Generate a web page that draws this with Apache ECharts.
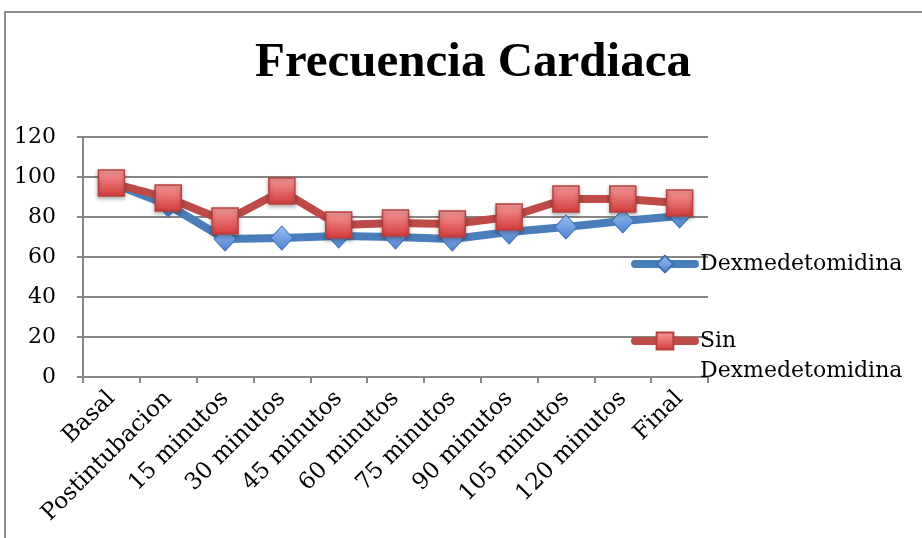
<!DOCTYPE html>
<html>
<head>
<meta charset="utf-8">
<script src="https://cdn.jsdelivr.net/npm/echarts@6/dist/echarts.min.js"></script>
<style>
  html, body { margin: 0; padding: 0; background: #fff; }
  #chart { width: 922px; height: 538px; }
</style>
</head>
<body>
<div id="chart"></div>
<script>
// categories and values
var categories = ['Basal', 'Postintubacion', '15 minutos', '30 minutos', '45 minutos',
                  '60 minutos', '75 minutos', '90 minutos', '105 minutos', '120 minutos', 'Final'];
var dexValues = [97, 86, 69, 69.5, 70.5, 70, 69, 72.5, 75, 78, 80.5];
var sinDexValues = [97, 89.5, 78, 93, 76, 77, 76.5, 80, 89, 89, 87];
var yTicks = { min: 0, max: 120, step: 20 };

var serif = 'DejaVu Serif';
var gridColor = '#868686';

var chart = echarts.init(document.getElementById('chart'));

var option = {
    backgroundColor: '#fff',
    animation: false,
    title: {
        text: 'Frecuencia Cardiaca',
        left: 250,
        top: 34,
        textStyle: {
            fontFamily: 'Liberation Serif',
            fontWeight: 'bold',
            fontSize: 49,
            color: '#000'
        }
    },
    legend: [
        {
            data: ['Dexmedetomidina'],
            orient: 'vertical',
            left: 631,
            top: 253,
            padding: 0,
            itemWidth: 60,
            itemHeight: 21,
            itemGap: 0,
            lineStyle: { width: 8, cap: 'round' },
            textStyle: { fontFamily: serif, fontSize: 22, color: '#000' }
        },
        {
            data: ['Sin Dexmedetomidina'],
            orient: 'vertical',
            left: 631,
            top: 296,
            padding: 0,
            itemWidth: 60,
            itemHeight: 21,
            itemGap: 0,
            lineStyle: { width: 8, cap: 'round' },
            // blank first line so that "Sin" sits level with the icon
            formatter: function (name) { return ' \nSin\nDexmedetomidina'; },
            textStyle: { fontFamily: serif, fontSize: 22, color: '#000', lineHeight: 30 }
        }
    ],
    grid: { left: 83, right: 214, top: 137, bottom: 161, containLabel: false },
    xAxis: {
        type: 'category',
        data: categories,
        boundaryGap: true,
        axisLine: { lineStyle: { color: gridColor, width: 2 } },
        axisTick: { show: true, length: 6, lineStyle: { color: gridColor, width: 2 } },
        axisLabel: {
            interval: 0,
            rotate: 45,
            margin: 18,
            fontFamily: serif,
            fontSize: 23,
            color: '#000'
        }
    },
    yAxis: {
        type: 'value',
        min: yTicks.min,
        max: yTicks.max,
        interval: yTicks.step,
        axisLine: { show: true, lineStyle: { color: gridColor, width: 2 } },
        axisTick: { show: true, length: 6, lineStyle: { color: gridColor, width: 2 } },
        axisLabel: { margin: 27, fontFamily: serif, fontSize: 22, color: '#000' },
        splitLine: { lineStyle: { color: gridColor, width: 2 } }
    },
    series: [
        {
            name: 'Dexmedetomidina',
            type: 'line',
            data: dexValues,
            symbol: 'diamond',
            symbolSize: [22, 24],
            lineStyle: { color: '#4a7ebb', width: 8, cap: 'round', join: 'round' },
            itemStyle: {
                color: new echarts.graphic.LinearGradient(0, 0, 0, 1, [
                    { offset: 0, color: '#9cc0f0' },
                    { offset: 1, color: '#4a82d2' }
                ]),
                borderColor: '#3d6fb5',
                borderWidth: 1
            }
        },
        {
            name: 'Sin Dexmedetomidina',
            type: 'line',
            data: sinDexValues,
            symbol: 'rect',
            symbolSize: 26,
            lineStyle: { color: '#be4b48', width: 8, cap: 'round', join: 'round' },
            itemStyle: {
                color: new echarts.graphic.LinearGradient(0, 0, 0, 1, [
                    { offset: 0, color: '#f79d9b' },
                    { offset: 1, color: '#d4393a' }
                ]),
                borderColor: '#b7413f',
                borderWidth: 1.5,
                shadowColor: 'rgba(0,0,0,0.3)',
                shadowBlur: 4,
                shadowOffsetY: 2
            }
        }
    ],
    graphic: [
        {
            type: 'polyline',
            silent: true,
            shape: { points: [[5, 538], [5, 12], [922, 12]] },
            style: { stroke: '#8c8c8c', lineWidth: 2, fill: null }
        }
    ]
};

chart.setOption(option);
</script>
</body>
</html>
